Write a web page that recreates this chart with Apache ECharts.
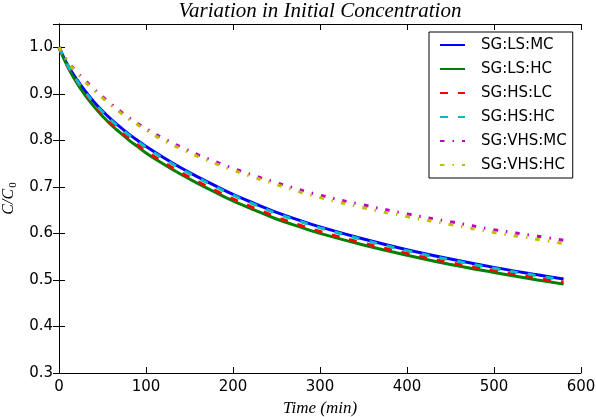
<!DOCTYPE html>
<html>
<head>
<meta charset="utf-8">
<script src="https://cdn.jsdelivr.net/npm/echarts@6/dist/echarts.min.js"></script>
<style>
  html, body { margin: 0; padding: 0; background: #fff; }
  #chart { width: 596px; height: 417px; }
</style>
</head>
<body>
<div id="chart"></div>
<script>
// ---- data ----
const timeMin = [0, 10, 20, 30, 40, 50, 60, 70, 80, 90, 100, 120, 140, 160, 180, 200, 225, 250, 275, 300, 350, 400, 450, 500, 550, 580];

const sgLsMc  = [1.000, 0.962, 0.932, 0.906, 0.883, 0.863, 0.845, 0.829, 0.814, 0.800, 0.787, 0.763, 0.741, 0.721, 0.702, 0.684, 0.664, 0.645, 0.629, 0.614, 0.588, 0.565, 0.545, 0.527, 0.511, 0.502];
const sgLsHc  = [1.000, 0.958, 0.925, 0.897, 0.873, 0.852, 0.833, 0.817, 0.801, 0.787, 0.773, 0.749, 0.727, 0.707, 0.688, 0.670, 0.650, 0.631, 0.615, 0.600, 0.575, 0.553, 0.533, 0.516, 0.500, 0.491];
const sgHsLc  = [1.000, 0.960, 0.929, 0.901, 0.877, 0.856, 0.837, 0.821, 0.805, 0.791, 0.777, 0.753, 0.731, 0.711, 0.692, 0.674, 0.654, 0.635, 0.619, 0.604, 0.579, 0.557, 0.537, 0.520, 0.504, 0.495];
const sgHsHc  = [1.000, 0.961, 0.930, 0.904, 0.881, 0.861, 0.843, 0.827, 0.812, 0.798, 0.785, 0.761, 0.739, 0.719, 0.700, 0.682, 0.662, 0.643, 0.627, 0.612, 0.586, 0.563, 0.543, 0.525, 0.509, 0.500];
const sgVhsMc = [1.000, 0.970, 0.948, 0.929, 0.911, 0.894, 0.878, 0.863, 0.849, 0.837, 0.825, 0.804, 0.786, 0.769, 0.754, 0.740, 0.724, 0.709, 0.695, 0.682, 0.661, 0.642, 0.625, 0.608, 0.594, 0.585];
const sgVhsHc = [1.000, 0.969, 0.946, 0.926, 0.908, 0.891, 0.875, 0.860, 0.846, 0.834, 0.822, 0.800, 0.782, 0.765, 0.750, 0.736, 0.720, 0.705, 0.690, 0.677, 0.655, 0.636, 0.619, 0.602, 0.587, 0.578];

const seriesNames = ['SG:LS:MC', 'SG:LS:HC', 'SG:HS:LC', 'SG:HS:HC', 'SG:VHS:MC', 'SG:VHS:HC'];
const xTicks = [0, 100, 200, 300, 400, 500, 600];
const yTicks = [0.3, 0.4, 0.5, 0.6, 0.7, 0.8, 0.9, 1.0];

// ---- styles ----
const seriesValues = [sgLsMc, sgLsHc, sgHsLc, sgHsHc, sgVhsMc, sgVhsHc];
const seriesColors = ['#0000ff', '#008000', '#ff0000', '#00bfbf', '#bf00bf', '#bfbf00'];
const seriesDash = ['solid', 'solid', [8, 10], [8, 10], [4.5, 8, 1.5, 8], [4.5, 8, 1.5, 8]];

const chart = echarts.init(document.getElementById('chart'), null, { renderer: 'canvas' });

const series = seriesNames.map((name, i) => ({
  name: name,
  type: 'line',
  xAxisIndex: 0,
  yAxisIndex: 0,
  data: timeMin.map((t, k) => [t, seriesValues[i][k]]),
  symbol: 'none',
  smooth: 0.4,
  animation: false,
  lineStyle: { color: seriesColors[i], width: 3, type: seriesDash[i], cap: 'butt' },
  itemStyle: { color: seriesColors[i] },
  z: 2 + i
}));

const tickFont = { fontFamily: 'DejaVu Sans', fontSize: 15, color: '#000' };

const option = {
  animation: false,
  backgroundColor: '#fff',
  title: {
    text: 'Variation in Initial Concentration',
    left: 320,
    top: 1,
    padding: 0,
    textAlign: 'center',
    textStyle: { fontFamily: 'Liberation Serif', fontStyle: 'italic', fontWeight: 'normal', fontSize: 21, color: '#000' }
  },
  grid: { left: 59, right: 15, top: 24, bottom: 44, containLabel: false, outerBoundsMode: 'none' },
  legend: {
    orient: 'vertical',
    left: 429,
    top: 32,
    width: 145,
    padding: [4, 6, 4, 10],
    itemWidth: 25,
    itemHeight: 14,
    itemGap: 6,
    backgroundColor: '#fff',
    borderColor: '#000',
    borderWidth: 1,
    borderRadius: 0,
    data: seriesNames,
    itemStyle: { opacity: 0 },
    textStyle: { fontFamily: 'DejaVu Sans', fontSize: 15, color: '#000', padding: [0, 0, 0, 11], lineHeight: 18 }
  },
  xAxis: [
    {
      type: 'value', position: 'bottom', min: xTicks[0], max: xTicks[xTicks.length - 1], interval: 100,
      name: 'Time (min)', nameLocation: 'middle', nameGap: 26,
      nameTextStyle: { fontFamily: 'Liberation Serif', fontStyle: 'italic', fontSize: 17, color: '#000' },
      axisLine: { show: true, lineStyle: { color: '#000', width: 1 } },
      axisTick: { show: true, inside: true, length: 6, lineStyle: { color: '#000' } },
      axisLabel: Object.assign({ margin: 7 }, tickFont),
      splitLine: { show: false }
    },
    {
      type: 'value', position: 'top', min: xTicks[0], max: xTicks[xTicks.length - 1], interval: 100,
      axisLine: { show: true, lineStyle: { color: '#000', width: 1 } },
      axisTick: { show: true, inside: true, length: 6, lineStyle: { color: '#000' } },
      axisLabel: { show: false },
      splitLine: { show: false }
    }
  ],
  yAxis: [
    {
      type: 'value', position: 'left', min: yTicks[0], max: 1.05, interval: 0.1,
      name: '{i|C/C}{s|0}', nameLocation: 'middle', nameGap: 38, nameRotate: 90,
      nameTextStyle: {
        rich: {
          i: { fontFamily: 'Liberation Serif', fontStyle: 'italic', fontSize: 16, color: '#000' },
          s: { fontFamily: 'Liberation Serif', fontSize: 11, color: '#000', padding: [8, 0, 0, 1] }
        }
      },
      axisLine: { show: true, lineStyle: { color: '#000', width: 1 } },
      axisTick: { show: true, inside: true, length: 6, lineStyle: { color: '#000' } },
      axisLabel: Object.assign({ margin: 6, showMaxLabel: false,
        formatter: v => (yTicks.some(t => Math.abs(t - v) < 1e-9) ? v.toFixed(1) : '') }, tickFont),
      splitLine: { show: false }
    },
    {
      type: 'value', position: 'right', min: yTicks[0], max: 1.05, interval: 0.1,
      axisLine: { show: true, lineStyle: { color: '#000', width: 1 } },
      axisTick: { show: true, inside: true, length: 6, lineStyle: { color: '#000' } },
      axisLabel: { show: false },
      splitLine: { show: false }
    }
  ],
  series: series
};

chart.setOption(option);
</script>
</body>
</html>
